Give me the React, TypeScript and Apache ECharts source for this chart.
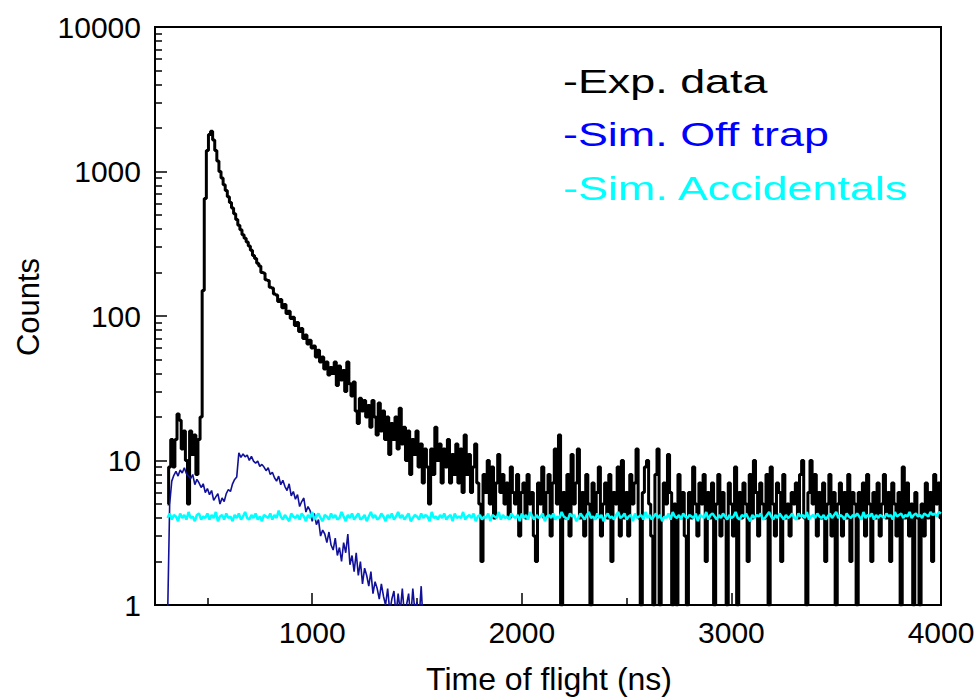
import React, { useEffect, useRef } from "react";
import * as echarts from "echarts";

// Histogram bins: first bin at T0 (ns), bin width BIN (ns)
const T0 = 310;
const BIN = 10;

// -Exp. data (counts per bin)
const expData = [
  5, 9, 14, 9, 14, 21, 19, 12, 16, 10,
  5, 16, 11, 15, 8, 14, 20, 150, 650, 1400,
  1800, 1900, 1650, 1400, 1180, 1000, 900, 810, 740, 670,
  610, 560, 510, 465, 425, 395, 365, 345, 325, 305,
  285, 262, 250, 232, 222, 200, 198, 178, 176, 158,
  156, 142, 140, 126, 130, 114, 120, 104, 108, 96,
  98, 86, 90, 78, 82, 70, 74, 64, 68, 60,
  62, 52, 58, 48, 52, 43, 48, 39, 44,
  40, 48, 33, 45, 36, 42, 30, 48, 34, 28,
  35, 22, 18, 27, 22, 26, 20, 24, 17, 26,
  20, 15, 25, 16, 22, 14, 20, 11, 18, 14,
  20, 12, 23, 13, 17, 10, 16, 8, 14, 11,
  16, 9, 13, 7, 12, 9, 5, 12, 8, 17,
  10, 13, 7, 12, 9, 14, 7, 11, 8, 13,
  7, 12, 6, 15, 8, 11, 6, 9, 13, 7,
  5, 2, 8, 6, 10, 5, 9, 4, 7, 11,
  6, 8, 5, 7, 4, 9, 6, 5, 8, 3,
  6, 7, 4, 8, 5, 6, 3, 2, 7, 5,
  9, 4, 6, 8, 3, 7, 12, 5, 15, 1,
  6, 4, 8, 3, 11, 5, 7, 12, 4, 6,
  3, 8, 5, 1, 7, 4, 6, 9, 3, 5,
  7, 4, 8, 2, 6, 5, 9, 3, 10, 4,
  6, 3, 8, 5, 7, 12, 4, 1, 6, 9,
  10, 5, 3, 1, 8, 12, 1, 4, 7, 5,
  11, 6, 1, 5, 1, 8, 4, 6, 3, 1,
  6, 4, 9, 5, 3, 7, 5, 8, 2, 6,
  4, 7, 1, 5, 8, 3, 6, 4, 1, 7,
  5, 3, 9, 1, 6, 4, 7, 5, 2, 8,
  4, 10, 6, 3, 7, 5, 4, 8, 1, 9,
  5, 3, 7, 6, 2, 8, 4, 5, 3, 6,
  5, 7, 4, 8, 10, 4, 1, 6, 10, 5,
  8, 3, 6, 4, 7, 2, 5, 8, 3, 6,
  1, 5, 7, 3, 6, 4, 8, 2, 6, 5,
  1, 6, 4, 7, 3, 8, 5, 2, 6, 4,
  7, 3, 5, 8, 4, 6, 2, 7, 5, 3,
  6, 1, 9, 4, 7, 3, 5, 1, 6, 4,
  1, 5, 3, 7, 4, 6, 2, 8, 5, 7,
  4,
];

// -Sim. Off trap
const offTrap = [
  0.8, 5, 7.2, 7.9, 8.4, 7.8, 8.6, 8.2, 8.9, 8.1,
  7.8, 7.5, 8.0, 6.8, 7.4, 7.0, 6.5, 6.9, 6.0, 6.4,
  5.8, 6.2, 5.3, 5.6, 5.9, 5.0, 5.5, 5.2, 5.9, 6.3,
  6.1, 6.9, 7.4, 7.7, 11.3, 10.5, 11.1, 10.6, 10.9, 10.0,
  10.7, 9.9, 9.6, 9.9, 9.1, 9.4, 9.0, 8.5, 8.9, 8.0,
  8.3, 7.6, 7.2, 7.8, 6.8, 7.3, 6.6, 6.2, 6.9, 5.7,
  6.1, 5.4, 5.8, 4.8, 5.2, 5.5, 4.4, 4.8, 4.5, 3.8,
  4.3, 3.6, 3.9, 3.0, 3.3, 3.1, 2.7, 3.2, 2.6, 2.4,
  2.9, 2.2, 2.5, 2.0, 2.7, 2.3, 3.1, 1.9, 2.2, 1.7,
  2.3, 1.6, 2.0, 1.4, 1.8, 1.6, 1.35, 1.7, 1.2, 1.45,
  1.3, 1.1, 1.4, 1.15, 1.0, 1.3, 0.9, 1.1, 1.25, 0.85,
  1.2, 0.9, 1.3, 0.85, 1.0, 1.2, 0.8, 1.3, 0.9, 1.05,
  0.8, 1.35, 0.7,
];

// -Sim. Accidentals
const accidentals = [
  4.0, 4.3, 3.9, 4.2, 4.1, 3.8, 4.3, 4.0, 4.2, 3.9,
  4.4, 4.0, 4.1, 3.8, 4.2, 4.3, 3.9, 4.1, 4.0, 4.3,
  3.9, 4.2, 4.0, 4.4, 3.8, 4.1, 4.2, 3.9, 4.3, 4.0,
  4.1, 3.8, 4.2, 4.0, 4.3, 3.9, 4.1, 4.4, 4.0, 3.9,
  4.2, 4.0, 4.3, 3.9, 4.1, 3.8, 4.2, 4.1, 4.0, 4.3,
  3.9, 4.2, 4.0, 4.5, 4.1, 3.9, 4.2, 4.0, 3.8, 4.3,
  4.1, 4.0, 4.2, 3.9, 4.3, 4.1, 3.8, 4.2, 4.0, 4.4,
  3.9, 4.1, 4.3, 4.0, 3.8, 4.2, 4.1, 3.9, 4.3, 4.0,
  4.2, 3.9, 4.0, 4.4, 4.1, 3.8, 4.2, 4.0, 4.3, 3.9,
  4.1, 4.3, 3.9, 4.0, 4.2, 3.8, 4.1, 4.4, 4.0, 4.2,
  3.9, 4.0, 4.3, 4.1, 3.8, 4.2, 4.0, 4.3, 3.9, 4.1,
  4.4, 4.0, 4.2, 3.9, 4.1, 4.3, 3.8, 4.0, 4.2, 4.1,
  3.9, 4.3, 4.0, 4.2, 4.1, 3.8, 4.4, 4.0, 4.1, 3.9,
  4.2, 4.0, 4.3, 3.9, 4.1, 4.2, 3.8, 4.3, 4.0, 4.1,
  4.0, 4.4, 3.9, 4.1, 4.2, 4.0, 4.3, 3.8, 4.1, 4.2,
  3.9, 4.1, 4.0, 4.3, 3.8, 4.2, 4.1, 4.0, 4.4, 3.9,
  4.2, 4.0, 4.1, 3.9, 4.3, 4.1, 4.0, 4.2, 3.8, 4.3,
  4.0, 4.2, 3.9, 4.4, 4.1, 3.9, 4.2, 4.0, 4.1, 4.3,
  3.8, 4.1, 4.2, 4.0, 4.3, 3.9, 4.1, 4.0, 4.4, 4.1,
  4.0, 3.9, 4.3, 4.1, 4.2, 3.8, 4.0, 4.3, 4.1, 3.9,
  4.2, 4.4, 4.0, 4.1, 3.9, 4.3, 4.0, 4.2, 3.8, 4.1,
  4.3, 4.0, 4.1, 3.9, 4.2, 4.4, 4.0, 4.1, 4.3, 3.9,
  4.1, 4.2, 3.8, 4.3, 4.0, 4.1, 4.2, 3.9, 4.4, 4.0,
  4.2, 3.9, 4.1, 4.3, 4.0, 4.2, 3.8, 4.1, 4.0, 4.3,
  3.9, 4.4, 4.1, 4.0, 4.2, 3.9, 4.3, 4.1, 4.0, 4.2,
  4.1, 4.0, 4.3, 3.8, 4.2, 4.1, 4.0, 4.4, 3.9, 4.2,
  4.3, 4.1, 3.9, 4.2, 4.0, 4.3, 4.1, 3.9, 4.2, 4.0,
  4.1, 4.4, 4.0, 3.9, 4.2, 4.1, 4.3, 4.0, 3.8, 4.2,
  4.0, 4.2, 4.1, 4.3, 3.9, 4.0, 4.2, 4.4, 4.1, 3.9,
  4.2, 4.0, 4.3, 4.1, 3.9, 4.2, 4.0, 4.1, 4.3, 4.0,
  3.9, 4.3, 4.1, 4.2, 4.0, 4.4, 3.9, 4.1, 4.2, 4.0,
  4.3, 4.1, 4.0, 4.2, 3.9, 4.1, 4.3, 4.0, 4.2, 4.4,
  4.0, 4.2, 4.1, 3.9, 4.3, 4.1, 4.0, 4.2, 4.1, 4.3,
  4.1, 3.9, 4.4, 4.0, 4.2, 4.1, 4.3, 3.9, 4.2, 4.0,
  4.2, 4.1, 4.0, 4.3, 4.1, 4.2, 3.9, 4.4, 4.1, 4.2,
  4.3, 4.0, 4.2, 4.1, 4.4, 4.0, 4.2, 4.3, 4.1, 4.2,
  4.0, 4.3, 4.2, 4.1, 4.4, 4.2, 4.3, 4.1, 4.4, 4.3,
];

const seriesNames = ["-Exp. data", "-Sim. Off trap", "-Sim. Accidentals"];
const legendColors = ["#000000", "#0000ff", "#00ffff"];
const xMajorTicks = [1000, 2000, 3000, 4000];
const xMinorTicks = [500, 1500, 2500, 3500];
const yMajorTicks = [1, 10, 100, 1000, 10000];
const yMinorTicks = [
  2, 3, 4, 5, 6, 7, 8, 9,
  20, 30, 40, 50, 60, 70, 80, 90,
  200, 300, 400, 500, 600, 700, 800, 900,
  2000, 3000, 4000, 5000, 6000, 7000, 8000, 9000,
];
const xTitle = "Time of flight (ns)";
const yTitle = "Counts";

const FONT = "'Liberation Sans', Arial, Helvetica, sans-serif";

function toPairs(vals: number[]) {
  return vals.map((v, i) => [T0 + i * BIN, v]);
}

export default function App() {
  const ref = useRef<HTMLDivElement>(null);
  useEffect(() => {
    document.body.style.margin = "0";
    if (!ref.current) return;
    const chart = echarts.init(ref.current, null, { renderer: "svg" });
    const lineBlack = { color: "#000", width: 2 };
    const tickStyle = { color: "#000", width: 1.5 };
    chart.setOption({
      animation: false,
      backgroundColor: "#fff",
      grid: {
        left: 155,
        top: 27,
        right: 37,
        bottom: 93,
        show: true,
        borderColor: "#000",
        borderWidth: 2,
        backgroundColor: "transparent",
      },
      xAxis: [
        {
          type: "value",
          min: 250,
          max: 4000,
          axisLine: { show: true, onZero: false, lineStyle: lineBlack },
          axisTick: { show: true, inside: true, length: 12, lineStyle: tickStyle, customValues: xMajorTicks },
          axisLabel: {
            customValues: xMajorTicks,
            fontSize: 30,
            color: "#000",
            fontFamily: FONT,
            margin: 12,
            formatter: (v: number) => String(v),
          },
          splitLine: { show: false },
        },
        {
          type: "value",
          min: 250,
          max: 4000,
          position: "bottom",
          axisLine: { show: false },
          axisTick: { show: true, inside: true, length: 7, lineStyle: tickStyle, customValues: xMinorTicks },
          axisLabel: { show: false },
          splitLine: { show: false },
        },
      ],
      yAxis: [
        {
          type: "log",
          logBase: 10,
          min: 1,
          max: 10000,
          axisLine: { show: true, onZero: false, lineStyle: lineBlack },
          axisTick: { show: true, inside: true, length: 12, lineStyle: tickStyle, customValues: yMajorTicks },
          axisLabel: {
            customValues: yMajorTicks,
            fontSize: 30,
            color: "#000",
            fontFamily: FONT,
            margin: 14,
            formatter: (v: number) => String(Math.round(v)),
          },
          splitLine: { show: false },
          minorTick: { show: false },
        },
        {
          type: "log",
          logBase: 10,
          min: 1,
          max: 10000,
          position: "left",
          axisLine: { show: false },
          axisTick: { show: true, inside: true, length: 7, lineStyle: tickStyle, customValues: yMinorTicks },
          axisLabel: { show: false },
          splitLine: { show: false },
        },
      ],
      series: [
        {
          name: seriesNames[0],
          type: "line",
          data: toPairs(expData),
          step: "middle",
          showSymbol: false,
          symbol: "none",
          lineStyle: { color: "#000", width: 3 },
          itemStyle: { color: "#000" },
          z: 2,
        },
        {
          name: seriesNames[1],
          type: "line",
          data: toPairs(offTrap),
          showSymbol: false,
          symbol: "none",
          lineStyle: { color: "#10109a", width: 1.6 },
          itemStyle: { color: "#10109a" },
          z: 3,
        },
        {
          name: seriesNames[2],
          type: "line",
          data: toPairs(accidentals),
          showSymbol: false,
          symbol: "none",
          lineStyle: { color: "#00ffff", width: 2.5 },
          itemStyle: { color: "#00ffff" },
          z: 4,
        },
      ],
      graphic: [
        ...seriesNames.map((name, i) => ({
          type: "text",
          x: 563,
          y: [81, 134, 188][i],
          scaleX: 1.36,
          style: {
            text: name,
            fill: legendColors[i],
            font: `33px ${FONT}`,
            align: "left",
            verticalAlign: "middle",
          },
        })),
        {
          type: "text",
          x: 549,
          y: 679,
          style: {
            text: xTitle,
            fill: "#000",
            font: `32px ${FONT}`,
            align: "center",
            verticalAlign: "middle",
          },
        },
        {
          type: "text",
          x: 28,
          y: 307,
          rotation: Math.PI / 2,
          style: {
            text: yTitle,
            fill: "#000",
            font: `31px ${FONT}`,
            align: "center",
            verticalAlign: "middle",
          },
        },
      ],
    });
    return () => chart.dispose();
  }, []);
  return <div ref={ref} style={{ width: 978, height: 698 }} />;
}
